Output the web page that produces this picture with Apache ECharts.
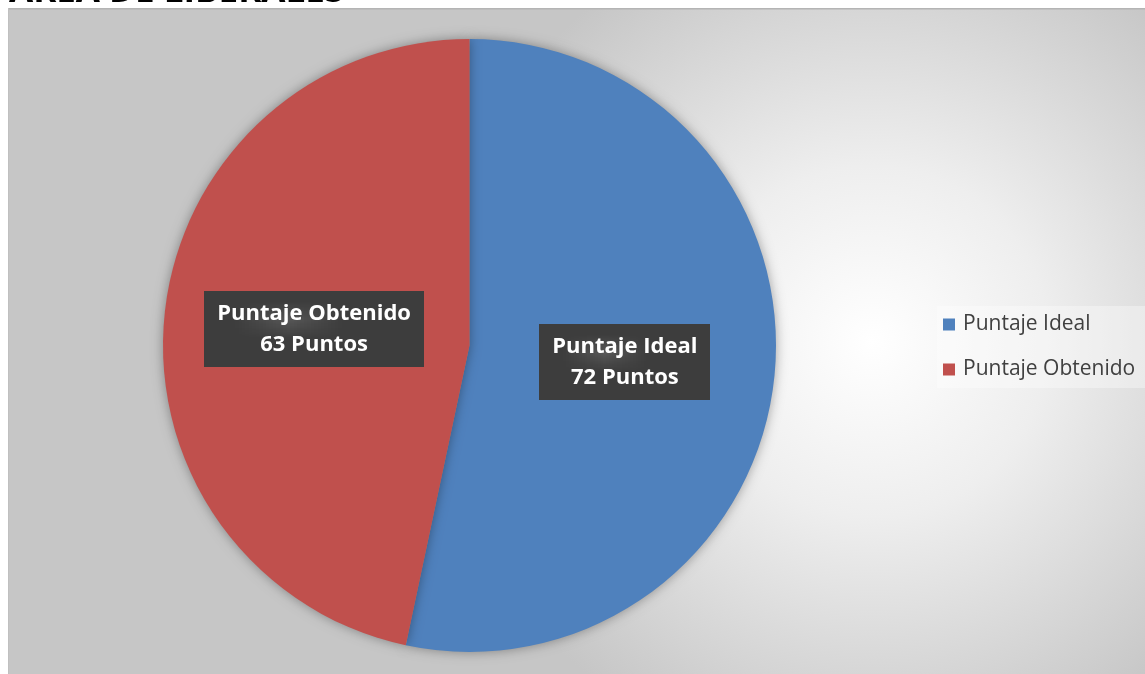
<!DOCTYPE html>
<html><head><meta charset="utf-8">
<script src="https://cdn.jsdelivr.net/npm/echarts@6/dist/echarts.min.js"></script>
<style>html,body{margin:0;padding:0;background:#fff;}#c{width:1145px;height:674px;}</style>
</head><body><div id="c"></div>
<script>
const titleText = 'ÁREA DE LIBERALES';
const categories = ['Puntaje Ideal', 'Puntaje Obtenido'];
const values = [72, 63];
const colors = ['#4f81bd', '#c0504d'];

const pc = document.createElement('canvas');
pc.width = 4; pc.height = 4;
const g = pc.getContext('2d');
g.fillStyle = '#3d3d3d'; g.fillRect(0,0,4,4);
g.fillStyle = '#575757'; g.fillRect(1,1,1,1);

const chart = echarts.init(document.getElementById('c'));
chart.setOption({
  animation: false,
  graphic: [
    { type: 'rect', left: 8, top: 9, z: -10, silent: true,
      shape: { width: 1137, height: 665 },
      style: { fill: { type: 'radial', x: 0.76, y: 0.5, r: 0.66, colorStops: [
        { offset: 0, color: '#ffffff' }, { offset: 0.4, color: '#eeeeee' }, { offset: 1, color: '#c6c6c6' } ] },
        stroke: null } },
    { type: 'rect', left: 8, top: 8, z: -9, silent: true, shape: { width: 1137, height: 1.5 }, style: { fill: '#b4b4b4' } },
    { type: 'rect', left: 8, top: 8, z: -9, silent: true, shape: { width: 1, height: 666 }, style: { fill: '#c0c0c0' } },
    { type: 'text', left: 9, top: -25, z: 10, style: { text: titleText, font: 'bold 35px "Open Sans", sans-serif', fill: '#000' } }
  ],
  legend: {
    orient: 'vertical', left: 937, top: 306, itemWidth: 12, itemHeight: 12, itemGap: 24,
    icon: 'rect', padding: [8, 10, 8, 6], backgroundColor: 'rgba(255,255,255,0.35)',
    textStyle: { color: '#404040', fontSize: 21, fontFamily: '"Open Sans", sans-serif', padding: [0, 0, 0, 3] },
    data: categories
  },
  series: [{
    type: 'pie', center: [469.5, 345.5], radius: 306.5, startAngle: 90, clockwise: true,
    color: colors,
    itemStyle: { shadowBlur: 12, shadowColor: 'rgba(0,0,0,0.35)', borderWidth: 0 },
    label: {
      show: true, position: 'inside',
      formatter: p => p.name + '\n' + p.value + ' Puntos',
      color: '#fff', fontFamily: '"Open Sans", sans-serif', fontWeight: 'bold', fontSize: 22, lineHeight: 31,
      align: 'center',
      backgroundColor: { image: pc, repeat: 'repeat' },
      padding: [7, 13, 7, 13],
      shadowBlur: 5, shadowOffsetX: 3, shadowOffsetY: 3, shadowColor: 'rgba(0,0,0,0.5)'
    },
    labelLine: { show: false },
    emphasis: { disabled: true },
    data: categories.map((n, i) => ({ name: n, value: values[i] }))
  }]
});
</script></body></html>
